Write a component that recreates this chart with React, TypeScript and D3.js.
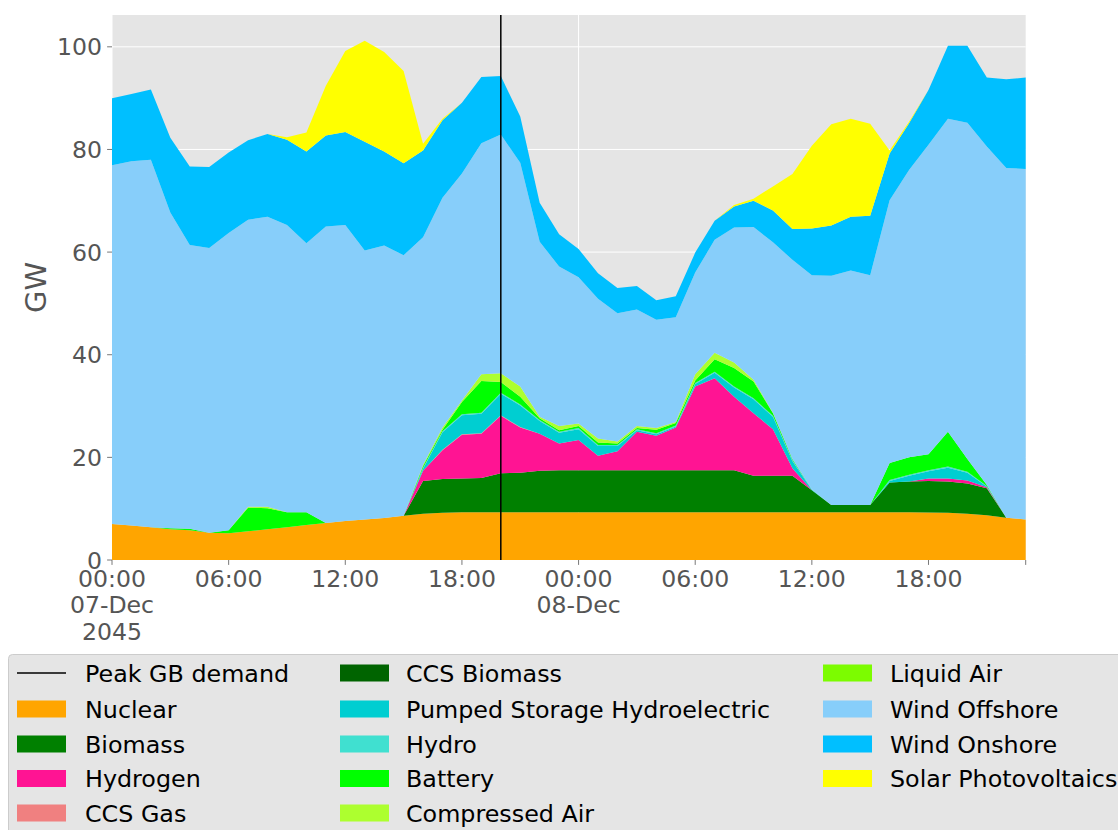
import React from "react";
import * as d3 from "d3";

// ---- data (GW, hourly from 00:00 07-Dec-2045) ----
const hours: number[] = d3.range(48);

const nuclear = [7.0, 6.7, 6.4, 6.0, 5.8, 5.3, 5.2, 5.6, 6.0, 6.4, 6.8, 7.2, 7.6, 7.9, 8.2, 8.6, 9.0, 9.2, 9.3, 9.3,
  9.3, 9.3, 9.3, 9.3, 9.3, 9.3, 9.3, 9.3, 9.3, 9.3, 9.3, 9.3, 9.3, 9.3, 9.3, 9.3, 9.3, 9.3, 9.3, 9.3, 9.3,
  9.3, 9.25, 9.2, 9.0, 8.7, 8.25, 7.9];
const biomass = [0, 0, 0, 0, 0, 0, 0, 0, 0, 0, 0, 0, 0, 0, 0, 0,
  6.4, 6.6, 6.6, 6.7, 7.6, 7.7, 8.1,
  8.2, 8.2, 8.2, 8.2, 8.2, 8.2, 8.2, 8.2, 8.2, 8.2,
  7.1, 7.1, 7.1, 4.3, 1.4, 1.4, 1.4,
  5.8, 6.0, 6.15, 6.1, 5.9, 5.3, 0, 0];
const hydrogen = [0, 0, 0, 0, 0, 0, 0, 0, 0, 0, 0, 0, 0, 0, 0, 0,
  2.0, 5.6, 8.5, 8.6, 11.2, 8.8, 7.2, 5.2, 5.9, 2.8, 3.7, 7.5, 6.7, 8.3, 16.3, 17.9, 14.3, 12.2, 9.1, 1.5,
  0, 0, 0, 0, 0, 0, 0.5, 0.6, 0.6, 0.2, 0, 0];
const ccsGas = [0, 0, 0, 0, 0, 0, 0, 0, 0, 0, 0, 0, 0, 0, 0, 0, 0,
  0.1, 0.1, 0.1, 0.1, 0.1, 0, 0, 0, 0, 0, 0, 0, 0, 0, 0, 0, 0, 0, 0, 0, 0, 0, 0, 0, 0, 0, 0, 0, 0, 0, 0];
const ccsBiomass = [0, 0, 0, 0, 0, 0, 0, 0, 0, 0, 0, 0, 0, 0, 0, 0, 0, 0, 0, 0, 0, 0, 0, 0,
  0, 0, 0, 0, 0, 0, 0, 0, 0, 0, 0, 0, 0, 0, 0, 0, 0, 0, 0, 0, 0, 0, 0, 0];
const pumpedStorage = [0, 0, 0, 0, 0, 0, 0, 0, 0, 0, 0, 0, 0, 0, 0, 0,
  0.4, 3.4, 3.7, 3.8, 4.2, 4.2, 2.5, 2.1, 2.1, 1.9, 1.0, 0.3, 0.3, 0.2, 0.5, 1.1, 1.8, 2.7, 2.4, 1.4, 0.1,
  0, 0, 0, 0.3, 1.1, 1.4, 2.1, 1.5, 0.1, 0, 0];
const hydro = [0, 0, 0, 0, 0, 0, 0, 0, 0, 0, 0, 0, 0, 0, 0, 0,
  0.2, 0.2, 0.2, 0.2, 0.2, 0.2, 0.2, 0.2, 0.2, 0.2, 0.2, 0.2, 0.2, 0.2, 0.2, 0.2, 0.2, 0.2, 0.2, 0.2, 0.1,
  0, 0, 0, 0.2, 0.2, 0.2, 0.2, 0.2, 0.1, 0, 0];
const battery = [0, 0, 0, 0.2, 0.3, 0, 0.6, 4.6, 4.1, 2.9, 2.5, 0, 0, 0, 0, 0,
  0.3, 0.3, 2.4, 6.2, 2.1, 1.5, 0.3, 0.3, 0.4, 0.5, 0.3, 0.2, 0.7, 0.5, 0.5, 2.4, 3.6, 3.3, 0.5, 0.2,
  0, 0, 0, 0, 3.3, 3.4, 3.1, 6.8, 2.5, 0.2, 0, 0];
const compressedAir = [0, 0, 0, 0, 0, 0, 0, 0.2, 0.3, 0, 0, 0, 0, 0, 0, 0,
  0.2, 0.4, 0.3, 1.3, 1.7, 2.0, 0.3, 0.8, 0.5, 0.8, 0.4, 0.4, 0.3, 0.2, 1.2, 1.3, 1.1, 0.3, 0.1, 0,
  0, 0, 0, 0, 0, 0, 0, 0, 0, 0, 0, 0];
const liquidAir = [0, 0, 0, 0, 0, 0, 0, 0, 0, 0, 0, 0, 0, 0, 0, 0, 0, 0, 0, 0, 0, 0, 0, 0,
  0, 0, 0, 0, 0, 0, 0, 0, 0, 0, 0, 0, 0, 0, 0, 0, 0, 0, 0, 0, 0, 0, 0, 0];
const windOffshore = [69.9, 71.0, 71.6, 61.5, 55.3, 55.5, 57.9, 55.9, 56.5, 56.0,
  52.4, 57.8, 57.7, 52.4, 53.1, 50.8, 44.4, 44.8, 44.2, 45.0,
  46.5, 43.6, 34.1, 31.1, 28.5, 27.2, 25.0, 22.7, 21.1, 20.4,
  19.8, 22.0, 26.3, 29.8, 33.2, 38.8, 41.7, 44.7, 45.7, 44.8,
  51.2, 56.0, 60.3, 61.0, 65.5, 66.0, 68.15, 68.3];
const windOnshore = [13.1, 13.1, 13.7, 14.6, 15.3, 15.8, 15.7, 15.5, 16.1, 16.6,
  17.9, 17.7, 18.1, 21.2, 18.3, 17.9, 16.9, 15.1, 13.8, 12.9,
  11.4, 9.0, 7.6, 6.3, 5.5, 5.0, 4.9, 4.6, 3.8, 4.1,
  3.9, 3.7, 4.1, 5.1, 6.2, 6.0, 9.1, 9.8, 10.5, 11.6,
  9.1, 9.1, 10.7, 14.2, 15.0, 13.4, 17.3, 17.8];
const solar = [0, 0, 0, 0, 0, 0, 0, 0, 0,
  0.5, 3.7, 9.7, 15.8, 19.7, 19.4, 18.0, 1.3, 0.3,
  0, 0, 0, 0, 0, 0, 0, 0, 0, 0, 0, 0, 0, 0,
  0.3, 0.4, 4.7, 10.7, 16.1, 19.7, 19.1, 17.9, 0.6, 0.3,
  0, 0, 0, 0, 0, 0];

const peakHour = 20;

const seriesNames = ["Nuclear", "Biomass", "Hydrogen", "CCS Gas", "CCS Biomass", "Pumped Storage Hydroelectric",
  "Hydro", "Battery", "Compressed Air", "Liquid Air", "Wind Offshore", "Wind Onshore", "Solar Photovoltaics"];
const seriesValues = [nuclear, biomass, hydrogen, ccsGas, ccsBiomass, pumpedStorage, hydro, battery,
  compressedAir, liquidAir, windOffshore, windOnshore, solar];
const seriesColors = ["#FFA500", "#008000", "#FF1493", "#F08080", "#006400", "#00CED1", "#40E0D0", "#00FF00",
  "#ADFF2F", "#7CFC00", "#87CEFA", "#00BFFF", "#FFFF00"];

const yTicks = [0, 20, 40, 60, 80, 100];
const xTickHours = [0, 6, 12, 18, 24, 30, 36, 42];
const xTickLabels = [["00:00", "07-Dec", "2045"], ["06:00"], ["12:00"], ["18:00"], ["00:00", "08-Dec"], ["06:00"], ["12:00"], ["18:00"]];
const xMajorHours = [0, 24];

const FONT = "DejaVu Sans, sans-serif";
const TICK_FS = 23.6;
const LEG_FS = 23.8;

export default function App() {
  const left = 112, right = 1025.7, top = 15, bottom = 560;
  const x = d3.scaleLinear().domain([0, 47]).range([left, right]);
  const y = d3.scaleLinear().domain([0, 106.2]).range([bottom, top]);

  const table = hours.map((h, i) => {
    const row: any = { h };
    seriesNames.forEach((n, k) => (row[n] = seriesValues[k][i]));
    return row;
  });
  const stacked = d3.stack<any>().keys(seriesNames)(table);
  const area = d3.area<any>()
    .x((d) => x(d.data.h))
    .y0((d) => y(d[0]))
    .y1((d) => y(d[1]));

  const legendCols = [
    { hx: 17, tx: 85 },
    { hx: 340, tx: 406 },
    { hx: 823, tx: 890 },
  ];
  const rowY = [673, 709, 744, 778.5, 813];
  const legendItems = [{ name: "Peak GB demand", color: "#000", line: true },
    ...seriesNames.map((n, i) => ({ name: n, color: seriesColors[i], line: false }))];

  return (
    <svg width={1118} height={830} style={{ position: "absolute", left: 0, top: 0 }}
      fontFamily={FONT}>
      <rect x={0} y={0} width={1118} height={830} fill="#fff" />
      <rect x={left} y={top} width={right - left} height={bottom - top} fill="#E5E5E5" />
      {yTicks.map((t) => (
        <line key={"gy" + t} x1={left} x2={right} y1={y(t)} y2={y(t)} stroke="#fff" strokeWidth={1} />
      ))}
      {xMajorHours.map((h) => (
        <line key={"gx" + h} x1={x(h)} x2={x(h)} y1={top} y2={bottom} stroke="#fff" strokeWidth={1} />
      ))}
      {stacked.map((s, i) => (
        <path key={s.key} d={area(s as any) || ""} fill={seriesColors[i]} stroke="none" />
      ))}
      <line x1={x(peakHour)} x2={x(peakHour)} y1={top} y2={bottom} stroke="#000" strokeWidth={1.5} />
      {yTicks.map((t) => (
        <g key={"ty" + t}>
          <line x1={left - 4.9} x2={left} y1={y(t)} y2={y(t)} stroke="#555" strokeWidth={0.8} />
          <text x={left - 10} y={y(t) + 8.6} textAnchor="end" fontSize={TICK_FS} fill="#555">{t}</text>
        </g>
      ))}
      {[...xTickHours, 47].map((h) => (
        <line key={"tx" + h} x1={x(h)} x2={x(h)} y1={bottom} y2={bottom + 4.9} stroke="#555" strokeWidth={0.8} />
      ))}
      {xTickHours.map((h, i) => (
        <text key={"lx" + h} x={x(h)} y={586.6} textAnchor="middle" fontSize={TICK_FS} fill="#555">
          {xTickLabels[i].map((line, j) => (
            <tspan key={j} x={x(h)} dy={j === 0 ? 0 : 26.8}>{line}</tspan>
          ))}
        </text>
      ))}
      <text transform={`translate(46, ${(top + bottom) / 2}) rotate(-90)`} textAnchor="middle"
        fontSize={29} fill="#555">GW</text>

      <rect x={8.5} y={654.5} width={1130} height={200} rx={4} fill="#E5E5E5" stroke="#cccccc" strokeWidth={1} />
      {legendItems.map((it, i) => {
        const col = legendCols[Math.floor(i / 5)];
        const cy = rowY[i % 5];
        return (
          <g key={it.name}>
            {it.line ? (
              <line x1={col.hx} x2={col.hx + 49} y1={cy} y2={cy} stroke={it.color} strokeWidth={1.5} />
            ) : (
              <rect x={col.hx} y={cy - 8.5} width={49} height={17} fill={it.color} />
            )}
            <text x={col.tx} y={cy + 8.5} fontSize={LEG_FS} fill="#000">{it.name}</text>
          </g>
        );
      })}
    </svg>
  );
}
